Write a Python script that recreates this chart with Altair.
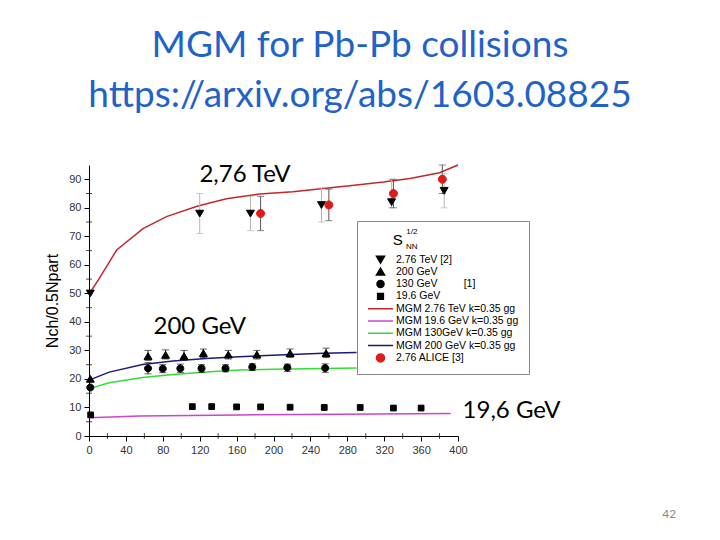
import altair as alt
import pandas as pd
import numpy as np

NB = "\u00a0"
# ---------------- data ----------------
series = [
    "2.76 TeV [2]",
    "200 GeV",
    "130 GeV" + NB * 9 + "[1]",
    "19.6 GeV",
    "MGM 2.76 TeV k=0.35 gg",
    "MGM 19.6 GeV k=0.35 gg",
    "MGM 130GeV k=0.35 gg",
    "MGM 200 GeV k=0.35 gg",
    "2.76 ALICE [3]",
]
# marker outlines in Vega's unit symbol space (scaled by the symbol size)
TRI_DOWN = "M-0.32,-0.26L0.32,-0.26L0,0.28Z"
TRI_UP = "M-0.32,0.26L0.32,0.26L0,-0.28Z"
CIRC = "M0.28,0A0.28,0.28,0,1,1,-0.28,0A0.28,0.28,0,1,1,0.28,0Z"
SQUARE = "M-0.23,-0.23L0.23,-0.23L0.23,0.23L-0.23,0.23Z"
CIRC_BIG = "M0.32,0A0.32,0.32,0,1,1,-0.32,0A0.32,0.32,0,1,1,0.32,0Z"
shapes = [TRI_DOWN, TRI_UP, CIRC, SQUARE,
          "stroke", "stroke", "stroke", "stroke", CIRC_BIG]
colors = ["black", "black", "black", "black",
          "#c0282d", "#cc44cc", "#33dd33", "#1a1a7a", "#dd1c1c"]

# data points
tev_x = [1.4, 120, 175, 252, 328, 385]
tev_y = [50, 78, 78, 81, 82, 86]
tev_lo = [np.nan, 71, 72, 75, 80, 80]
tev_hi = [np.nan, 85, 84, 87, 90, 92]

alice_x = [186, 260, 330, 383]
alice_y = [78, 81, 85, 90]
alice_lo = [72, 75.5, 80, 85]
alice_hi = [84, 86.5, 90, 95]

g200_x = [1.4, 64, 83, 103, 124, 151, 182, 218, 257]
g200_y = [20, 28, 28.4, 28, 29, 28.5, 28.5, 29, 29]
g200_lo = [np.nan, 26.5, 27, 26.5, 27.5, 27, 27, 27.5, 27.5]
g200_hi = [np.nan, 30, 30.2, 30, 30.5, 30, 30, 30.5, 30.8]

g130_x = [1.4, 64, 80, 99, 122, 148, 177, 215, 256]
g130_y = [17, 23.7, 23.6, 23.7, 23.7, 23.7, 24.2, 24, 23.8]
g130_lo = [np.nan, 21.8, 22.2, 22.3, 22.3, 22.5, 23, 22.6, 22.3]
g130_hi = [np.nan, 25.7, 25, 25.2, 25, 25, 25.3, 25.2, 25.3]

g19_x = [1.8, 112, 133, 160, 186, 218, 255, 294, 330, 360]
g19_y = [7.4, 10.3, 10.3, 10.2, 10.2, 10.1, 10, 10, 9.8, 9.8]

# model curves
mgm276_x = [0, 10.5, 30, 58.5, 84, 118, 149, 185, 221, 254, 290, 319, 348, 380, 400]
mgm276_y = [49.7, 54.9, 65.2, 72.7, 76.9, 80.6, 83.2, 84.8, 85.6, 86.8, 88, 89, 90.3, 92.3, 95]
mgm200_x = [0, 22, 58, 91, 127, 163, 199, 254, 290]
mgm200_y = [19.6, 22.4, 25.1, 26.3, 27.2, 27.8, 28.3, 29, 29.3]
mgm130_x = [0, 22, 58, 91, 127, 163, 199, 254, 290]
mgm130_y = [16.6, 18.7, 20.5, 21.6, 22.4, 23.1, 23.4, 23.7, 23.8]
mgm19_x = [0, 55, 163, 272, 392]
mgm19_y = [6.4, 7.0, 7.4, 7.6, 7.9]

# annotations
ann_text = ["2,76 TeV", "200 GeV", "19,6 GeV"]
ann_x = [169, 120, 458]
ann_y = [91.4, 38.1, 8.6]

x_ticks = list(range(0, 401, 40))
y_ticks = list(range(0, 91, 10))
x_minor = list(range(20, 400, 40))
y_minor = list(range(5, 95, 10))

# ---------------- tables ----------------
pts = pd.concat([
    pd.DataFrame({"x": tev_x, "y": tev_y, "s": series[0]}),
    pd.DataFrame({"x": g200_x, "y": g200_y, "s": series[1]}),
    pd.DataFrame({"x": g130_x, "y": g130_y, "s": series[2]}),
    pd.DataFrame({"x": g19_x, "y": g19_y, "s": series[3]}),
    pd.DataFrame({"x": alice_x, "y": alice_y, "s": series[8]}),
])
lines = pd.concat([
    pd.DataFrame({"x": mgm276_x, "y": mgm276_y, "s": series[4]}),
    pd.DataFrame({"x": mgm19_x, "y": mgm19_y, "s": series[5]}),
    pd.DataFrame({"x": mgm130_x, "y": mgm130_y, "s": series[6]}),
    pd.DataFrame({"x": mgm200_x, "y": mgm200_y, "s": series[7]}),
])
err = pd.concat([
    pd.DataFrame({"x": tev_x, "lo": tev_lo, "hi": tev_hi, "c": "#b5b5b5"}),
    pd.DataFrame({"x": alice_x, "lo": alice_lo, "hi": alice_hi, "c": "#555555"}),
    pd.DataFrame({"x": g200_x, "lo": g200_lo, "hi": g200_hi, "c": "#222222"}),
    pd.DataFrame({"x": g130_x, "lo": g130_lo, "hi": g130_hi, "c": "#222222"}),
]).dropna()
ann = pd.DataFrame({"t": ann_text, "x": ann_x, "y": ann_y})
leg_big = pd.DataFrame({"t": ["S"], "x": [334.6], "y": [68.6]})
leg_small = pd.DataFrame({"t": ["1/2", "NN"], "x": [350, 350], "y": [71.6, 66.4]})
pagenum = pd.DataFrame({"t": ["42"], "x": [629], "y": [-27.5]})

# ---------------- scales ----------------
xs = alt.Scale(domain=[0, 400], nice=False, zero=False)
ys = alt.Scale(domain=[0, 95], nice=False)
dom = series
shape_sc = alt.Scale(domain=dom, range=shapes)
col_sc = alt.Scale(domain=dom, range=colors)

x_axis = alt.Axis(values=x_ticks, title=None, tickSize=5, labelPadding=3,
                  labelFontSize=11, grid=False, labelOverlap=False,
                  labelFlush=False)
y_axis = alt.Axis(values=y_ticks, title="Nch/0.5Npart", tickSize=5,
                  labelPadding=3, labelFontSize=11, grid=False,
                  labelOverlap=False, labelFlush=False,
                  titleFontSize=16, titleFontWeight="normal",
                  titlePadding=8, titleColor="black")

legend = alt.Legend(
    title=" ", orient="none", legendX=268, legendY=56)

line_layer = alt.Chart(lines).mark_line(strokeWidth=1.5).encode(
    x=alt.X("x:Q", scale=xs, axis=x_axis),
    y=alt.Y("y:Q", scale=ys, axis=y_axis),
    stroke=alt.Stroke("s:N", scale=col_sc, legend=legend),
    order="x:Q")

rules = alt.Chart(err).mark_rule(strokeWidth=1).encode(
    x=alt.X("x:Q", scale=xs, axis=x_axis), y=alt.Y("lo:Q", scale=ys, axis=y_axis),
    y2="hi:Q", color=alt.Color("c:N", scale=None))
cap_lo = alt.Chart(err).mark_tick(orient="horizontal", size=7, thickness=1).encode(
    x=alt.X("x:Q", scale=xs, axis=x_axis), y=alt.Y("lo:Q", scale=ys, axis=y_axis),
    color=alt.Color("c:N", scale=None))
cap_hi = alt.Chart(err).mark_tick(orient="horizontal", size=7, thickness=1).encode(
    x=alt.X("x:Q", scale=xs, axis=x_axis), y=alt.Y("hi:Q", scale=ys, axis=y_axis),
    color=alt.Color("c:N", scale=None))

point_layer = alt.Chart(pts).mark_point(filled=True, strokeWidth=1, opacity=1,
                                        size=625).encode(
    x=alt.X("x:Q", scale=xs, axis=x_axis), y=alt.Y("y:Q", scale=ys, axis=y_axis),
    shape=alt.Shape("s:N", scale=shape_sc, legend=legend),
    fill=alt.Fill("s:N", scale=col_sc, legend=legend),
    stroke=alt.Stroke("s:N", scale=col_sc, legend=legend))

minor_x = alt.Chart(pd.DataFrame({"x": x_minor})).mark_tick(
    orient="vertical", size=6, thickness=1, color="black").encode(
    x=alt.X("x:Q", scale=xs, axis=x_axis), y=alt.YDatum(0, scale=ys, axis=y_axis))
minor_y = alt.Chart(pd.DataFrame({"y": y_minor})).mark_tick(
    orient="horizontal", size=6, thickness=1, color="black").encode(
    y=alt.Y("y:Q", scale=ys, axis=y_axis), x=alt.XDatum(0, scale=xs, axis=x_axis))

def txt(df, **kw):
    return alt.Chart(df).mark_text(**kw).encode(
        x=alt.X("x:Q", scale=xs, axis=x_axis),
        y=alt.Y("y:Q", scale=ys, axis=y_axis), text="t:N")

ann_layer = txt(ann, font="Lato", fontSize=24, color="black")
legt_big = txt(leg_big, font="Liberation Sans", fontSize=15, color="black")
legt_small = txt(leg_small, font="Liberation Sans", fontSize=8, color="black")
page_layer = txt(pagenum, font="Lato", fontSize=12, color="#888888")

chart = alt.layer(
    line_layer, rules, cap_lo, cap_hi, point_layer, minor_x, minor_y,
    ann_layer, legt_big, legt_small, page_layer
).properties(
    width=369, height=271,
    title=alt.TitleParams(
        text=["MGM for Pb-Pb collisions", "https://arxiv.org/abs/1603.08825"],
        font="Lato", fontSize=37, fontWeight="normal", color="#1F63C9",
        anchor="middle", frame="group", dx=86.5, offset=47, lineHeight=50),
    autosize=alt.AutoSizeParams(type="none"),
    padding={"left": 89, "top": 165, "right": 262, "bottom": 104},
    background="white",
).configure_view(stroke=None).configure_axis(
    domainColor="black", tickColor="black", labelColor="#333333",
    labelFont="Liberation Sans", titleFont="Liberation Sans",
    labelOverlap=False, labelFlush=False
).configure_legend(
    titleFontSize=14, titlePadding=9,
    labelFont="Liberation Sans", labelFontSize=10.5, labelColor="black",
    symbolSize=625, symbolStrokeWidth=1.5, clipHeight=11, rowPadding=1.3,
    labelOffset=2, padding=10, strokeColor="#888888", labelLimit=300,
    symbolOpacity=1)

chart.save("out.html", embed_options={"renderer": "svg", "actions": False})
